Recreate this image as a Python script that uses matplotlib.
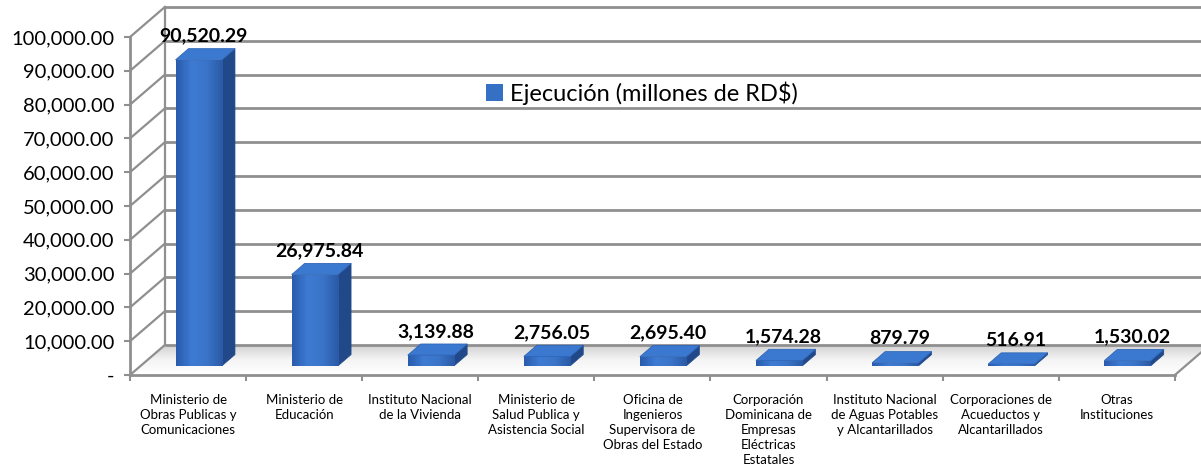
import numpy as np
import matplotlib.pyplot as plt
from matplotlib.patches import Polygon
from matplotlib.colors import LinearSegmentedColormap

# ----- data -----
categorias = [
    "Ministerio de\nObras Publicas y\nComunicaciones",
    "Ministerio de\nEducación",
    "Instituto Nacional\nde la Vivienda",
    "Ministerio de\nSalud Publica y\nAsistencia Social",
    "Oficina de\nIngenieros\nSupervisora de\nObras del Estado",
    "Corporación\nDominicana de\nEmpresas\nEléctricas\nEstatales",
    "Instituto Nacional\nde Aguas Potables\ny Alcantarillados",
    "Corporaciones de\nAcueductos y\nAlcantarillados",
    "Otras\nInstituciones",
]
ejecucion = [90520.29, 26975.84, 3139.88, 2756.05, 2695.40, 1574.28, 879.79, 516.91, 1530.02]
serie = "Ejecución (millones de RD$)"
yticks = np.arange(0, 100001, 10000)

plt.rcParams['font.family'] = ['Lato', 'DejaVu Sans']

# fake 3d depth (in data units)
ddx = 0.30      # categories
ddy = 8876.0    # value units
f1, f2 = 0.31, 0.68   # bar depth inside the floor
w = 0.40
grid_c = '#8f8f8f'

fig = plt.figure(figsize=(12.01, 4.71), dpi=100)
ax = fig.add_axes([0, 0, 1, 1])
ax.set_xlim(-1.62, 8.725)
ax.set_ylim(-28400, 110950)

n = len(ejecucion)
x = np.arange(n)
x0, x1 = -0.5, n - 0.5

# floor with a soft shadow towards the back
floor = Polygon([(x0, 0), (x1, 0), (x1 + ddx, ddy), (x0 + ddx, ddy)],
                closed=True, facecolor='none', edgecolor='none')
ax.add_patch(floor)
grad = np.linspace(0, 1, 50).reshape(-1, 1)
floor_cm = LinearSegmentedColormap.from_list('fl', ['#ffffff', '#f4f4f4', '#cfcfcf'])
im = ax.imshow(grad, cmap=floor_cm, aspect='auto', origin='lower',
               extent=(x0, x1 + ddx, 0, ddy), zorder=1)
im.set_clip_path(floor)

# back wall grid + left wall obliques
for v in yticks:
    ax.plot([x0 + ddx, x1 + ddx + 1], [v + ddy, v + ddy], color=grid_c, lw=2, zorder=2,
            solid_capstyle='butt')
    ax.plot([x0, x0 + ddx], [v, v + ddy], color=grid_c, lw=1.6, zorder=2)
ax.plot([x0 + ddx, x0 + ddx], [ddy, yticks[-1] + ddy], color=grid_c, lw=1.6, zorder=2)
ax.plot([x1, x1 + ddx], [0, ddy], color=grid_c, lw=1.6, zorder=2)

# bars: front face via ax.bar, side and top as polygons
front_cm = LinearSegmentedColormap.from_list('fr', ['#2a5cae', '#3d7bd2', '#3a74c8', '#2b5aa6'])
bars = ax.bar(x + f1 * ddx, ejecucion, width=w, bottom=f1 * ddy, color='#3670c4',
              edgecolor='none', zorder=4, label=serie)
dd = f2 - f1
for b, v in zip(bars, ejecucion):
    xl = b.get_x()
    xr = xl + b.get_width()
    yb = b.get_y()
    yt = yb + v
    gim = ax.imshow(np.linspace(0, 1, 40).reshape(1, -1), cmap=front_cm, aspect='auto',
                    extent=(xl, xr, yb, yt), zorder=4)
    gim.set_clip_path(b)
    side = Polygon([(xr, yb), (xr + dd * ddx, yb + dd * ddy), (xr + dd * ddx, yt + dd * ddy), (xr, yt)],
                   closed=True, facecolor='#21498a', edgecolor='#21498a', lw=0.5, zorder=3)
    top = Polygon([(xl, yt), (xr, yt), (xr + dd * ddx, yt + dd * ddy), (xl + dd * ddx, yt + dd * ddy)],
                  closed=True, facecolor='#3b79d0', edgecolor='#2f66b8', lw=0.6, zorder=5,
                  joinstyle='round')
    ax.add_patch(side)
    ax.add_patch(top)
    ax.annotate(f"{v:,.2f}", (xl + w / 2 + dd * ddx / 3, yt + dd * ddy), xytext=(0, 3),
                textcoords='offset points', ha='center', va='bottom',
                fontsize=14, fontweight='bold', color='black', zorder=6)

# axes: front left spine and front floor edge
for s in ['top', 'right']:
    ax.spines[s].set_visible(False)
ax.spines['left'].set_position(('data', x0))
ax.spines['left'].set_bounds(0, yticks[-1])
ax.spines['bottom'].set_position(('data', 0))
ax.spines['bottom'].set_bounds(x0, x1)
for s in ['left', 'bottom']:
    ax.spines[s].set_color(grid_c)
    ax.spines[s].set_linewidth(2)
    ax.spines[s].set_zorder(2)

ax.set_yticks(yticks)
ax.set_yticklabels(["-" if v == 0 else f"{v:,.2f}" for v in yticks])
ax.tick_params(axis='y', length=4, width=1.5, color=grid_c, pad=7, labelsize=14.5)
ax.set_xticks(np.arange(n + 1) - 0.5)
ax.set_xticklabels([])
ax.set_xticks(x, minor=True)
ax.set_xticklabels(categorias, minor=True, fontsize=9.5, linespacing=1.3)
ax.tick_params(axis='x', which='major', length=4, width=1.5, color=grid_c)
ax.tick_params(axis='x', which='minor', length=0, pad=14)

leg = ax.legend(loc='center left', bbox_to_anchor=(0.395, 0.802), frameon=False, fontsize=17,
                handlelength=0.7, handleheight=0.7, handletextpad=0.3, borderpad=0)

fig.savefig("out.png", dpi=100)
